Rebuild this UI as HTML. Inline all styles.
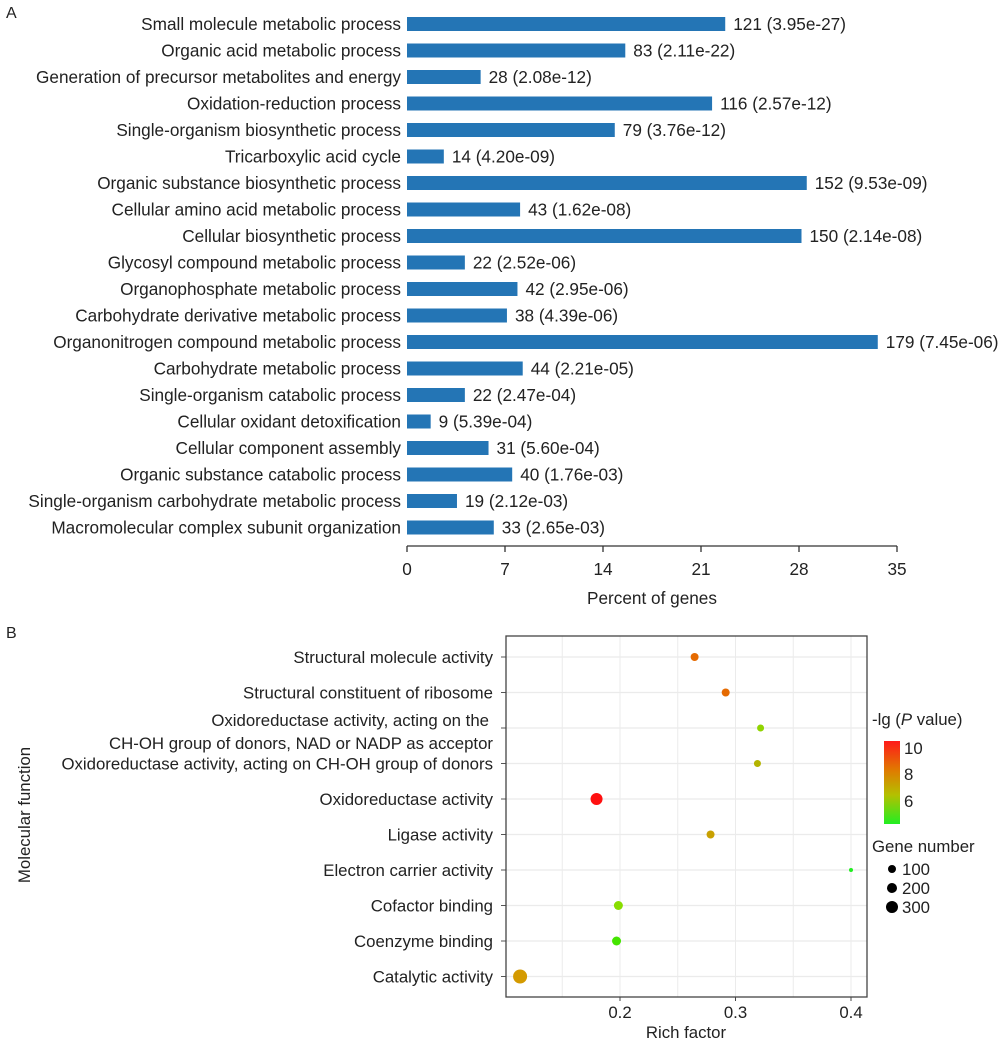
<!DOCTYPE html>
<html><head><meta charset="utf-8"><style>
html,body{margin:0;padding:0;background:#fff}
svg text{font-family:"Liberation Sans",sans-serif;fill:#222}
</style></head><body>
<svg id="s" width="1000" height="1044" xmlns="http://www.w3.org/2000/svg">
<defs><linearGradient id="cg" x1="0" y1="0" x2="0" y2="1">
<stop offset="0" stop-color="#ff1a1a"/><stop offset="0.35" stop-color="#e07a00"/><stop offset="0.65" stop-color="#b4c000"/><stop offset="1" stop-color="#22ee22"/></linearGradient></defs>
<text x="6" y="18" font-size="16">A</text>
<text x="6" y="638" font-size="16">B</text>
<g id="a"></g><g id="b"></g>
</svg>
<script>
const NS="http://www.w3.org/2000/svg";
function el(p,t,a,txt){const e=document.createElementNS(NS,t);for(const k in a)e.setAttribute(k,a[k]);if(txt!=null)e.textContent=txt;p.appendChild(e);return e;}
const A=document.getElementById('a');
const FA=17.2, FB=16.8;
const rows=[["Small molecule metabolic process",121,"3.95e-27"],["Organic acid metabolic process",83,"2.11e-22"],["Generation of precursor metabolites and energy",28,"2.08e-12"],["Oxidation-reduction process",116,"2.57e-12"],["Single-organism biosynthetic process",79,"3.76e-12"],["Tricarboxylic acid cycle",14,"4.20e-09"],["Organic substance biosynthetic process",152,"9.53e-09"],["Cellular amino acid metabolic process",43,"1.62e-08"],["Cellular biosynthetic process",150,"2.14e-08"],["Glycosyl compound metabolic process",22,"2.52e-06"],["Organophosphate metabolic process",42,"2.95e-06"],["Carbohydrate derivative metabolic process",38,"4.39e-06"],["Organonitrogen compound metabolic process",179,"7.45e-06"],["Carbohydrate metabolic process",44,"2.21e-05"],["Single-organism catabolic process",22,"2.47e-04"],["Cellular oxidant detoxification",9,"5.39e-04"],["Cellular component assembly",31,"5.60e-04"],["Organic substance catabolic process",40,"1.76e-03"],["Single-organism carbohydrate metabolic process",19,"2.12e-03"],["Macromolecular complex subunit organization",33,"2.65e-03"]];
rows.forEach((r,i)=>{const cy=24+i*26.5;const w=r[1]*2.63;
el(A,'rect',{x:407,y:cy-7,width:w,height:14,fill:'#2475b5'});
el(A,'text',{x:401,y:cy+6,'font-size':FA,'text-anchor':'end'},r[0]);
el(A,'text',{x:407+w+8,y:cy+6,'font-size':FA},r[1]+" ("+r[2]+")");});
el(A,'line',{x1:407,y1:546,x2:897,y2:546,stroke:'#333','stroke-width':1.3});
[0,7,14,21,28,35].forEach((v,i)=>{const x=407+i*98;el(A,'line',{x1:x,y1:546,x2:x,y2:552,stroke:'#333','stroke-width':1.3});el(A,'text',{x:x,y:575,'font-size':FA,'text-anchor':'middle'},v);});
el(A,'text',{x:652,y:604,'font-size':FA,'text-anchor':'middle'},"Percent of genes");
const B=document.getElementById('b');
const L=506,R=867,T=636,Bo=997;const X=v=>620+(v-0.2)*1155;
[0.15,0.2,0.25,0.3,0.35,0.4].forEach(v=>el(B,'line',{x1:X(v),y1:T,x2:X(v),y2:Bo,stroke:'#ebebeb','stroke-width':1}));
const pts=[["Structural molecule activity",0.2646,4,'#e56a00'],["Structural constituent of ribosome",0.2915,4,'#e56a00'],[null,0.3217,3.5,'#90d400'],["Oxidoreductase activity, acting on CH-OH group of donors",0.319,3.5,'#b4b400'],["Oxidoreductase activity",0.1797,6,'#ff1010'],["Ligase activity",0.2784,4,'#c8a000'],["Electron carrier activity",0.4,2,'#22ee22'],["Cofactor binding",0.1986,4.5,'#88dd00'],["Coenzyme binding",0.197,4.5,'#44e400'],["Catalytic activity",0.1135,7,'#d49a00']];
pts.forEach((p,i)=>{const y=657+i*35.5;el(B,'line',{x1:L,y1:y,x2:R,y2:y,stroke:'#ebebeb','stroke-width':1.2});el(B,'line',{x1:L-5,y1:y,x2:L,y2:y,stroke:'#555'});});
pts.forEach((p,i)=>{const y=657+i*35.5;el(B,'circle',{cx:X(p[1]),cy:y,r:p[2],fill:p[3]});
if(p[0])el(B,'text',{x:493,y:y+6,'font-size':FB,'text-anchor':'end'},p[0]);});
el(B,'text',{x:489,y:726,'font-size':FB,'text-anchor':'end'},"Oxidoreductase activity, acting on the");
el(B,'text',{x:493,y:749,'font-size':FB,'text-anchor':'end'},"CH-OH group of donors, NAD or NADP as acceptor");
el(B,'rect',{x:L,y:T,width:R-L,height:Bo-T,fill:'none',stroke:'#444','stroke-width':1.3});
[0.2,0.3,0.4].forEach(v=>{el(B,'line',{x1:X(v),y1:Bo,x2:X(v),y2:Bo+4,stroke:'#444'});el(B,'text',{x:X(v),y:1018,'font-size':FB,'text-anchor':'middle'},v);});
el(B,'text',{x:686,y:1038,'font-size':FB,'text-anchor':'middle'},"Rich factor");
el(B,'text',{x:0,y:0,'font-size':FB,'text-anchor':'middle',transform:'translate(30,815) rotate(-90)'},"Molecular function");
const t=el(B,'text',{x:872,y:725,'font-size':FB});t.innerHTML='-lg (<tspan font-style="italic">P</tspan> value)';
el(B,'rect',{x:884,y:741,width:16,height:83,fill:'url(#cg)'});
[["10",754],["8",780],["6",807]].forEach(a=>el(B,'text',{x:904,y:a[1],'font-size':FB},a[0]));
el(B,'text',{x:872,y:852,'font-size':FB},"Gene number");
[[4,869,"100"],[5,888,"200"],[6,907,"300"]].forEach(a=>{el(B,'circle',{cx:892,cy:a[1],r:a[0],fill:'#000'});el(B,'text',{x:902,y:a[1]+6,'font-size':FB},a[2]);});
</script>
</body></html>
